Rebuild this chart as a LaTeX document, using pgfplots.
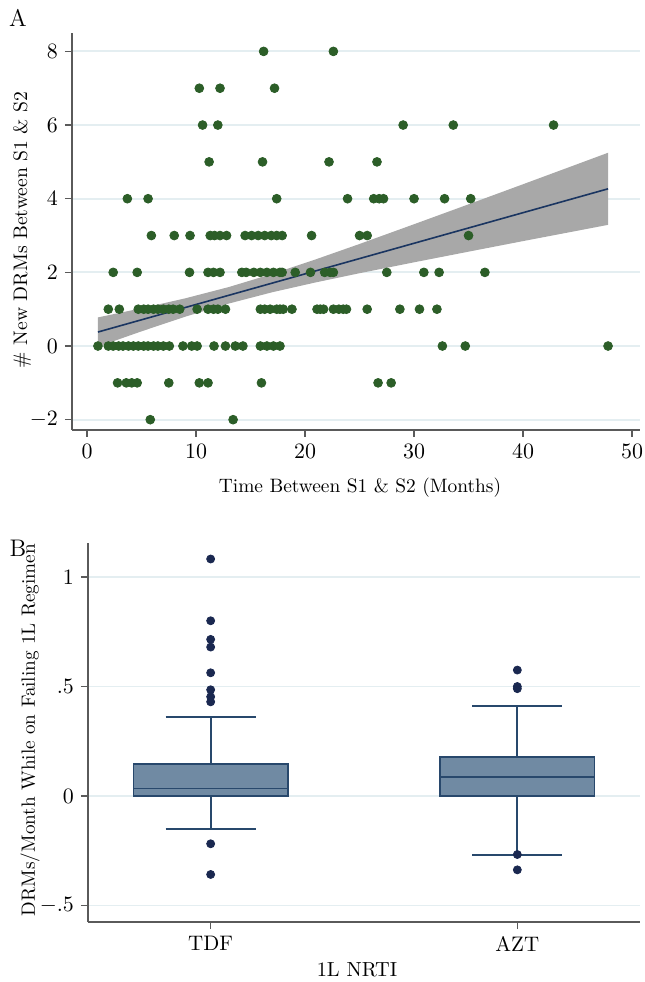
\documentclass[border=0pt]{standalone}
\usepackage{pgfplots}
\pgfplotsset{compat=1.18}
\definecolor{ptgreen}{RGB}{44,94,40}
\definecolor{fitline}{RGB}{26,53,97}
\definecolor{bandgray}{RGB}{168,168,168}
\definecolor{gridc}{RGB}{228,238,241}
\definecolor{axisgray}{RGB}{90,90,90}
\definecolor{boxfill}{RGB}{112,138,163}
\definecolor{boxedge}{RGB}{40,72,108}
\definecolor{outl}{RGB}{26,40,80}
\pgfplotsset{
  every tick label/.append style={font=\fontsize{10.5}{12}\selectfont},
  myaxis/.style={
    scale only axis,
    anchor=south west,
    axis lines*=left,
    axis line style={-,draw=axisgray,line width=0.6pt},
    tick align=outside,
    major tick length=3.5pt,
    tick style={axisgray,line width=0.6pt},
    ymajorgrids, xmajorgrids=false,
    grid style={gridc,line width=0.9pt},
    clip=false,
  },
  bx/.style={boxedge, line width=0.9pt},
}
\begin{document}
\begin{tikzpicture}
\useasboundingbox (0pt,0pt) rectangle (322pt,491pt);
% ---------------- Panel A ----------------
\begin{axis}[myaxis,
  at={(36pt,276pt)}, width=284pt, height=198.5pt,
  xmin=-1.38, xmax=50.73, ymin=-2.28, ymax=8.5,
  xtick={0,10,20,30,40,50}, ytick={-2,0,2,4,6,8},
]
\addplot[fill=bandgray, draw=none] coordinates {
 (1,0.777) (5,1.025) (9,1.294) (13,1.601) (17,1.959) (21,2.355) (25,2.771)
 (30,3.307) (35,3.848) (40,4.393) (44,4.831) (47.8,5.248)
 (47.8,3.290) (44,3.075) (40,2.849) (35,2.562) (30,2.273) (25,1.977)
 (21,1.729) (17,1.461) (13,1.153) (9,0.796) (5,0.399) (1,-0.017)
} -- cycle;
\addplot[fitline, line width=0.8pt] coordinates {(1,0.380) (47.8,4.269)};
\addplot[only marks, mark=*, mark size=2.2pt, ptgreen, mark options={draw=ptgreen, fill=ptgreen}] coordinates {
 (16.2,8) (22.6,8)
 (10.3,7) (12.2,7) (17.2,7)
 (10.6,6) (12.0,6) (29.0,6) (33.6,6) (42.8,6)
 (11.2,5) (16.1,5) (22.2,5) (26.6,5)
 (3.7,4) (5.6,4) (17.4,4) (23.9,4) (26.3,4) (26.8,4) (27.2,4) (30.0,4) (32.8,4) (35.2,4)
 (5.9,3) (8.0,3) (9.45,3) (11.3,3) (11.7,3) (12.2,3) (12.8,3) (14.5,3) (15.1,3) (15.7,3)
 (16.3,3) (16.9,3) (17.4,3) (17.9,3) (20.6,3) (25.0,3) (25.7,3) (35.0,3)
 (2.4,2) (4.6,2) (9.4,2) (11.1,2) (11.6,2) (12.2,2) (14.2,2) (14.6,2) (15.3,2) (15.9,2)
 (16.5,2) (17.1,2) (17.7,2) (17.9,2) (19.1,2) (20.5,2) (21.8,2) (22.3,2) (22.6,2)
 (27.5,2) (30.9,2) (32.3,2) (36.5,2)
 (1.95,1) (2.96,1) (4.7,1) (5.2,1) (5.6,1) (6.1,1) (6.5,1) (7.0,1) (7.5,1) (7.9,1)
 (8.5,1) (10.1,1) (11.1,1) (11.6,1) (12.0,1) (12.7,1) (15.9,1) (16.3,1) (16.8,1) (17.4,1)
 (17.7,1) (18.0,1) (18.8,1) (21.1,1) (21.4,1) (21.7,1) (22.6,1) (23.1,1) (23.5,1) (23.8,1)
 (25.7,1) (28.7,1) (30.5,1) (32.1,1)
 (1.0,0) (1.95,0) (2.4,0) (2.9,0) (3.3,0) (3.8,0) (4.25,0) (4.7,0) (5.2,0) (5.6,0)
 (6.1,0) (6.5,0) (7.0,0) (7.55,0) (8.8,0) (9.6,0) (10.1,0) (11.65,0) (12.7,0) (13.6,0)
 (14.3,0) (15.9,0) (16.5,0) (17.1,0) (17.7,0) (32.6,0) (34.7,0) (47.8,0)
 (2.8,-1) (3.6,-1) (4.1,-1) (4.6,-1) (7.5,-1) (10.3,-1) (11.1,-1) (16.0,-1) (26.7,-1) (27.9,-1)
 (5.8,-2) (13.4,-2)
};
\end{axis}
% ---------------- Panel B ----------------
\begin{axis}[myaxis,
  at={(44pt,30pt)}, width=276pt, height=189.5pt,
  xmin=0.6, xmax=2.4, ymin=-0.575, ymax=1.155,
  xtick={1,2}, xticklabels={TDF,AZT},
  ytick={-0.5,0,0.5,1}, yticklabels={$-.5$,$0$,$.5$,$1$},
]
% TDF: median 0.034, Q1 0, Q3 0.148, whiskers -0.152 / 0.36
\addplot[bx] coordinates {(1,0.148) (1,0.36)};
\addplot[bx] coordinates {(0.853,0.36) (1.147,0.36)};
\addplot[bx] coordinates {(1,0) (1,-0.152)};
\addplot[bx] coordinates {(0.853,-0.152) (1.147,-0.152)};
\addplot[bx, fill=boxfill] coordinates {(0.7485,0) (1.2515,0) (1.2515,0.148) (0.7485,0.148)} -- cycle;
\addplot[bx] coordinates {(0.7485,0.034) (1.2515,0.034)};
% AZT: median 0.087, Q1 0, Q3 0.178, whiskers -0.268 / 0.41
\addplot[bx] coordinates {(2,0.178) (2,0.41)};
\addplot[bx] coordinates {(1.853,0.41) (2.147,0.41)};
\addplot[bx] coordinates {(2,0) (2,-0.268)};
\addplot[bx] coordinates {(1.853,-0.268) (2.147,-0.268)};
\addplot[bx, fill=boxfill] coordinates {(1.7485,0) (2.2515,0) (2.2515,0.178) (1.7485,0.178)} -- cycle;
\addplot[bx] coordinates {(1.7485,0.087) (2.2515,0.087)};
% outliers
\addplot[only marks, mark=*, mark size=2pt, outl, mark options={draw=outl, fill=outl}] coordinates {
 (1,1.082) (1,0.80) (1,0.715) (1,0.68) (1,0.5625) (1,0.485) (1,0.453) (1,0.43) (1,-0.218) (1,-0.358)
 (2,0.575) (2,0.50) (2,0.49) (2,-0.267) (2,-0.337)
};
\end{axis}
% ---------------- Labels ----------------
\node[font=\fontsize{12}{14}\selectfont] at (9pt,482pt) {A};
\node[font=\fontsize{12}{14}\selectfont] at (9pt,217pt) {B};
\node[font=\fontsize{9.7}{12}\selectfont] at (180pt,247pt) {Time Between S1 \& S2 (Months)};
\node[font=\fontsize{9.8}{12}\selectfont, rotate=90] at (11pt,376pt) {\# New DRMs Between S1 \& S2};
\node[font=\fontsize{9.6}{12}\selectfont, rotate=90] at (15pt,126pt) {DRMs/Month While on Failing 1L Regimen};
\node[font=\fontsize{10.2}{12}\selectfont] at (178.5pt,6pt) {1L NRTI};
\end{tikzpicture}
\end{document}
